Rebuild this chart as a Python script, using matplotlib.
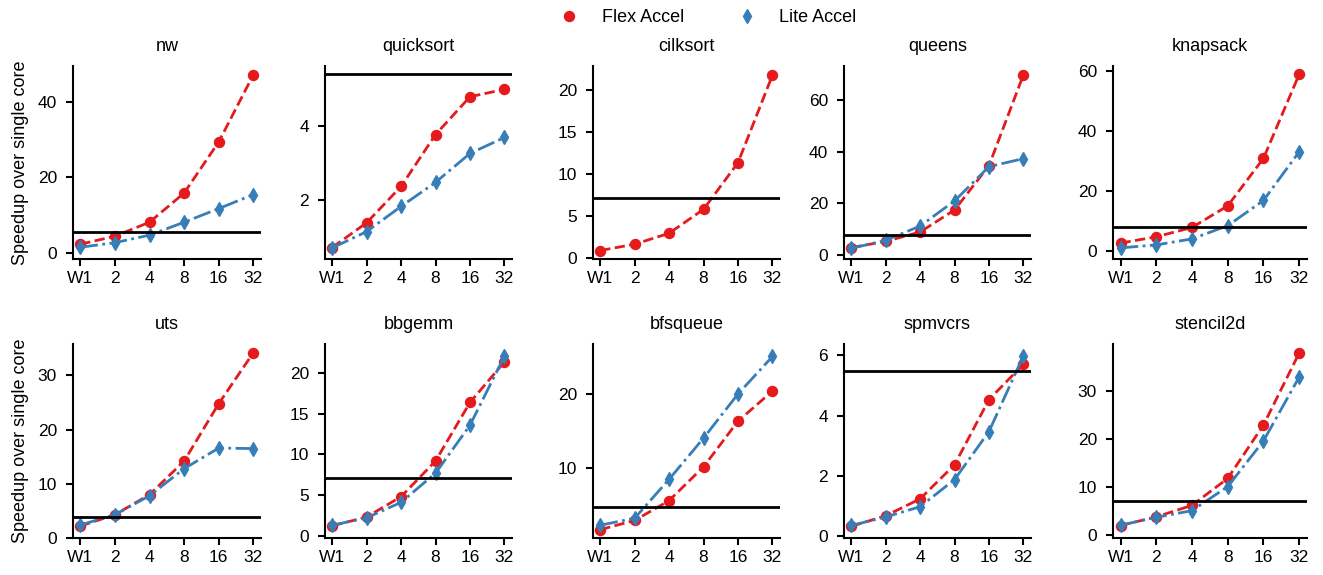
import numpy as np
import matplotlib
matplotlib.use("Agg")
import matplotlib.pyplot as plt
from matplotlib.lines import Line2D

plt.rcParams['font.family'] = ['Liberation Sans', 'DejaVu Sans']
plt.rcParams['font.size'] = 12

nan = np.nan
cores = ['W1', '2', '4', '8', '16', '32']
benchmarks = ['nw', 'quicksort', 'cilksort', 'queens', 'knapsack',
              'uts', 'bbgemm', 'bfsqueue', 'spmvcrs', 'stencil2d']

# speedup over single core, one list per benchmark
flex = {
    'nw':        [2.4, 4.5, 8.2, 15.9, 29.4, 47.1],
    'quicksort': [0.73, 1.40, 2.38, 3.78, 4.80, 5.00],
    'cilksort':  [0.85, 1.6, 2.9, 5.75, 11.3, 21.7],
    'queens':    [3.0, 5.4, 9.0, 17.5, 34.6, 69.6],
    'knapsack':  [2.6, 4.7, 7.8, 15.0, 30.8, 58.8],
    'uts':       [2.2, 4.3, 8.0, 14.2, 24.8, 34.2],
    'bbgemm':    [1.2, 2.3, 4.8, 9.2, 16.4, 21.4],
    'bfsqueue':  [1.55, 2.8, 5.5, 10.1, 16.3, 20.4],
    'spmvcrs':   [0.33, 0.68, 1.24, 2.37, 4.53, 5.70],
    'stencil2d': [1.9, 3.7, 6.1, 11.7, 22.8, 37.8],
}
lite = {
    'nw':        [1.6, 2.8, 4.8, 8.2, 11.8, 15.5],
    'quicksort': [0.72, 1.16, 1.84, 2.49, 3.27, 3.70],
    'cilksort':  [nan, nan, nan, nan, nan, nan],
    'queens':    [2.7, 5.8, 11.3, 21.0, 34.2, 37.3],
    'knapsack':  [1.0, 2.0, 4.0, 8.4, 16.8, 33.0],
    'uts':       [2.4, 4.3, 7.8, 12.8, 16.6, 16.5],
    'bbgemm':    [1.28, 2.2, 4.1, 7.7, 13.6, 22.1],
    'bfsqueue':  [2.15, 3.1, 8.4, 14.0, 20.0, 25.1],
    'spmvcrs':   [0.36, 0.64, 0.98, 1.88, 3.47, 5.98],
    'stencil2d': [1.96, 3.6, 5.0, 10.0, 19.5, 32.8],
}
# black reference line per benchmark
ref = {'nw': 5.6, 'quicksort': 5.41, 'cilksort': 7.07, 'queens': 7.8,
       'knapsack': 8.1, 'uts': 3.85, 'bbgemm': 7.07, 'bfsqueue': 4.57,
       'spmvcrs': 5.46, 'stencil2d': 7.0}
# y ranges as shown
ylims = {'nw': (-1.5, 49.4), 'quicksort': (0.42, 5.63), 'cilksort': (-0.16, 22.8),
         'queens': (-1.4, 73.0), 'knapsack': (-2.7, 61.6), 'uts': (0.0, 35.8),
         'bbgemm': (-0.29, 23.6), 'bfsqueue': (0.41, 26.8),
         'spmvcrs': (-0.056, 6.37), 'stencil2d': (-0.7, 39.7)}

red = '#e41a1c'
blue = '#377eb8'

W, H = 1323, 575
fig = plt.figure(figsize=(W / 100, H / 100), dpi=100)

cols = [(73, 261), (325, 512), (593, 780), (844, 1031), (1113, 1307)]
rows = [(66, 259), (344, 538)]

x = np.arange(len(cores))
for i, name in enumerate(benchmarks):
    r, c = divmod(i, 5)
    l, rr = cols[c]
    t, b = rows[r]
    ax = fig.add_axes([l / W, 1 - b / H, (rr - l) / W, (b - t) / H])
    ax.plot(x, flex[name], color=red, ls='--', lw=2, marker='o', ms=7.2)
    ax.plot(x, lite[name], color=blue, ls='-.', lw=2, marker='d', ms=7.5)
    ax.axhline(ref[name], color='black', lw=2)
    ax.set_xticks(x)
    ax.set_xticklabels(cores)
    ax.set_xlim(-0.21, 5.22)
    ax.set_ylim(*ylims[name])
    ax.set_title(name, fontsize=13, pad=11)
    for s in ['top', 'right']:
        ax.spines[s].set_visible(False)
    for s in ['left', 'bottom']:
        ax.spines[s].set_linewidth(1.5)
    ax.tick_params(length=5, width=1.5, labelsize=12.5)
    ax.tick_params(axis='y', pad=6.5)
    if c == 0:
        ax.set_ylabel('Speedup over single core', fontsize=13, labelpad=6)

handles = [Line2D([], [], color=red, marker='o', ls='none', ms=7.2),
           Line2D([], [], color=blue, marker='d', ls='none', ms=7.5)]
fig.legend(handles, ['Flex Accel', 'Lite Accel'], loc='upper center',
           bbox_to_anchor=(0.532, 1.012), ncol=2, frameon=False,
           fontsize=13, columnspacing=2.5)

fig.savefig('out.png', dpi=100)
